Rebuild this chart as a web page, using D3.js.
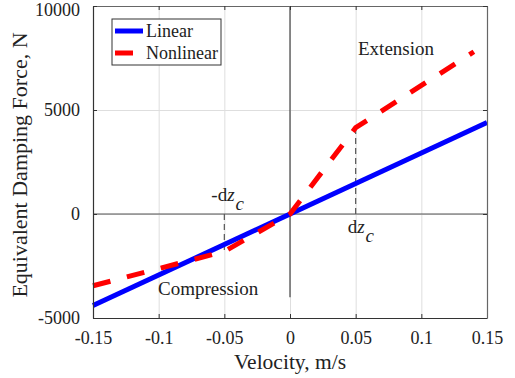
<!DOCTYPE html>
<html>
<head>
<meta charset="utf-8">
<script src="https://cdn.jsdelivr.net/npm/d3@7"></script>
<style>
  body { margin: 0; background: #fff; }
  svg, svg text { font-family: "Liberation Serif", "DejaVu Serif", "Times New Roman", Times, serif !important; }
</style>
</head>
<body>
<div id="chart"></div>
<script>
// data
var xTicks = [-0.15, -0.1, -0.05, 0, 0.05, 0.1, 0.15];
var xTickLabels = ["-0.15", "-0.1", "-0.05", "0", "0.05", "0.1", "0.15"];
var yTicks = [-5000, 0, 5000, 10000];
var yTickLabels = ["-5000", "0", "5000", "10000"];
var linearV = [-0.15, 0.15];
var linearF = [-4400, 4400];
var nonlinV = [-0.15, -0.05, 0, 0.05, 0.14];
var nonlinF = [-3450, -1800, 0, 4150, 7800];
var dzc = 0.05;

var W = 515, H = 378;
var m = {left: 93, right: 28, top: 6, bottom: 60};
var w = W - m.left - m.right, h = H - m.top - m.bottom;

var svg = d3.select('#chart').append('svg')
    .attr('width', W).attr('height', H);

var x = d3.scaleLinear().domain([-0.15, 0.15]).range([0, w]);
var y = d3.scaleLinear().domain([-5000, 10000]).range([h, 0]);

var g = svg.append('g').attr('transform', 'translate(' + m.left + ',' + m.top + ')');

// grid
g.append('g').attr('class', 'grid')
    .attr('transform', 'translate(0,' + h + ')')
    .call(d3.axisBottom(x).tickValues(xTicks).tickSize(-h).tickFormat(''));
g.append('g').attr('class', 'grid')
    .call(d3.axisLeft(y).tickValues(yTicks).tickSize(-w).tickFormat(''));
g.selectAll('.grid .domain').remove();
g.selectAll('.grid line').attr('stroke', '#dedede').attr('stroke-width', 1);

// zero lines
g.append('line')
    .attr('x1', 0).attr('x2', w)
    .attr('y1', y(0)).attr('y2', y(0))
    .attr('stroke', '#555').attr('stroke-width', 1.2);
g.append('line')
    .attr('x1', x(0)).attr('x2', x(0))
    .attr('y1', y(10000)).attr('y2', y(-4000))
    .attr('stroke', '#444').attr('stroke-width', 1.2);

// dz_c markers
[-dzc, dzc].forEach(function (v) {
    var i = nonlinV.indexOf(v);
    g.append('line')
        .attr('x1', x(v)).attr('x2', x(v))
        .attr('y1', y(0)).attr('y2', y(nonlinF[i]))
        .attr('stroke', '#555').attr('stroke-width', 1.2)
        .attr('stroke-dasharray', '6,4');
});

var line = d3.line()
    .x(function (d) { return x(d[0]); })
    .y(function (d) { return y(d[1]); });

g.append('path')
    .datum(linearV.map(function (v, i) { return [v, linearF[i]]; }))
    .attr('d', line)
    .attr('fill', 'none').attr('stroke', '#0000ff').attr('stroke-width', 5);

g.append('path')
    .datum(nonlinV.map(function (v, i) { return [v, nonlinF[i]]; }))
    .attr('d', line)
    .attr('fill', 'none').attr('stroke', '#ff0000').attr('stroke-width', 5)
    .attr('stroke-dasharray', '18,17');

// axes
var xAxis = g.append('g')
    .attr('transform', 'translate(0,' + h + ')')
    .call(d3.axisBottom(x).tickValues(xTicks).tickSizeInner(-4).tickSizeOuter(0)
        .tickPadding(13).tickFormat(function (d, i) { return xTickLabels[i]; }));
var xTop = g.append('g')
    .call(d3.axisTop(x).tickValues(xTicks).tickSizeInner(-4).tickSizeOuter(0).tickFormat(''));
var yAxis = g.append('g')
    .call(d3.axisLeft(y).tickValues(yTicks).tickSizeInner(-4).tickSizeOuter(0)
        .tickPadding(13).tickFormat(function (d, i) { return yTickLabels[i]; }));
var yRight = g.append('g')
    .attr('transform', 'translate(' + w + ',0)')
    .call(d3.axisRight(y).tickValues(yTicks).tickSizeInner(-4).tickSizeOuter(0).tickFormat(''));

[xAxis, xTop, yAxis, yRight].forEach(function (a) {
    a.attr('font-family', null);
    a.select('.domain').attr('stroke', '#333').attr('stroke-width', 1.2);
    a.selectAll('.tick line').attr('stroke', '#333');
    a.selectAll('text')
        .attr('font-size', 18).attr('fill', '#222');
});
// keep the top label inside the picture
yAxis.selectAll('.tick text').filter(function (d) { return d === 10000; })
    .attr('dy', '0.32em').attr('y', 3.5);
xTop.select('.domain').attr('stroke', '#666');
yRight.select('.domain').attr('stroke', '#666');

// axis labels
svg.append('text')
    .attr('x', m.left + x(0)).attr('y', 369)
    .attr('text-anchor', 'middle')
    .attr('font-size', 21.5).attr('fill', '#222')
    .text('Velocity, m/s');
svg.append('text')
    .attr('transform', 'translate(27,165) rotate(-90)')
    .attr('text-anchor', 'middle')
    .attr('font-size', 22).attr('fill', '#222')
    .text('Equivalent Damping Force, N');

// annotations
g.append('text')
    .attr('x', 396 - m.left).attr('y', 55 - m.top)
    .attr('text-anchor', 'middle')
    .attr('font-size', 19).attr('fill', '#222')
    .text('Extension');
g.append('text')
    .attr('x', 158 - m.left).attr('y', 295 - m.top)
    .attr('font-size', 19).attr('fill', '#222')
    .text('Compression');

function dzLabel(xp, yp, prefix) {
    var t = g.append('text')
        .attr('x', xp).attr('y', yp)
        .attr('font-size', 19).attr('fill', '#222');
    t.append('tspan').text(prefix + 'd');
    t.append('tspan').attr('font-style', 'italic').text('z');
    t.append('tspan').attr('font-style', 'italic').attr('dy', 9).attr('dx', 1).text('c');
}
dzLabel(x(-dzc) - 13, y(0) - 13, '-');
dzLabel(x(dzc) - 8, y(0) + 19, '');

// legend
var lg = svg.append('g');
lg.append('rect')
    .attr('x', 112).attr('y', 19).attr('width', 109).attr('height', 46)
    .attr('fill', '#fff').attr('stroke', '#333').attr('stroke-width', 1);
var legendItems = [
    {name: 'Linear', color: '#0000ff', len: 28},
    {name: 'Nonlinear', color: '#ff0000', len: 18}
];
legendItems.forEach(function (d, i) {
    var yy = 31 + i * 22;
    lg.append('line')
        .attr('x1', 115).attr('x2', 115 + d.len)
        .attr('y1', yy).attr('y2', yy)
        .attr('stroke', d.color).attr('stroke-width', 5);
    lg.append('text')
        .attr('x', 146).attr('y', yy + 6)
        .attr('font-size', 18).attr('fill', '#222')
        .text(d.name);
});
</script>
</body>
</html>
